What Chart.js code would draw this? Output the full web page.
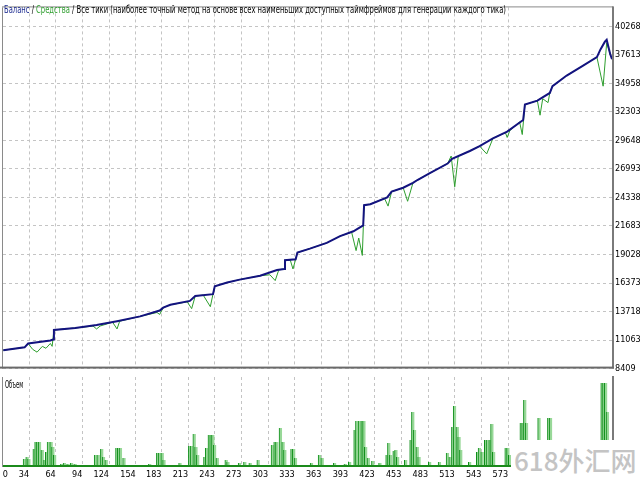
<!DOCTYPE html>
<html>
<head>
<meta charset="utf-8">
<script src="https://cdn.jsdelivr.net/npm/chart.js@4.4.0/dist/chart.umd.min.js"></script>
<style>
  html, body { margin: 0; padding: 0; background: #fff; }
  #wrap { position: relative; width: 640px; height: 480px; overflow: hidden; }
  #top { position: absolute; left: 0; top: 0; }
  #vol { position: absolute; left: 0; top: 376px; }
  .lbl { position: absolute; white-space: nowrap; transform-origin: 0 0; color: #000;
         font: 10px 'Liberation Sans Narrow', 'DejaVu Sans Condensed', 'DejaVu Sans', sans-serif; }
  #title { left: 4px; top: 4px; }
  #volLabel { left: 5px; top: 379px; }
  #mark { position: absolute; left: 511px; top: 440px; width: 129px; height: 40px; background: #fff;
          color: #c4c4c4; font: 500 26px 'Noto Sans CJK SC', sans-serif; line-height: 40px; padding-left: 3px; box-sizing: border-box; }
</style>
</head>
<body>
<div id="wrap">
  <canvas id="top" width="640" height="376"></canvas>
  <canvas id="vol" width="640" height="104"></canvas>
  <div id="title" class="lbl"><span style="color:#1b2a8f">Баланс</span> / <span style="color:#2e9e2e">Средства</span> / Все тики (наиболее точный метод на основе всех наименьших доступных таймфреймов для генерации каждого тика)</div>
  <div id="volLabel" class="lbl">Объем</div>
  <div id="mark">618外汇网</div>
</div>
<script>
// номер сделки / баланс
const balanceTrade = [5,29,33,58,61,62,86,110,133,159,181,185,193,215,221,241,243,257,271,294,313,321,322,334,336,350,369,384,399,410,411,418,437,442,455,466,471,485,505,510,530,541,556,572,590,592,606,620,623,639,657,673,677,682,684,688,690];
const balance = [10119,10389,10749,11019,11109,12009,12189,12459,12819,13269,13809,14079,14349,14709,15159,15339,16059,16419,16689,17049,17589,17679,18489,18579,19209,19569,20109,20739,21189,21729,23619,23709,24339,24879,25239,25689,25959,26589,27489,27939,28659,29109,29829,30459,31539,32979,33339,34059,34689,35679,36579,37389,38109,38829,39009,37659,37209];

// средства (equity), с просадками
const equityTrade = [5,29,33,38,43,49,53,58,60,62,86,106,110,114,128,133,136,159,178,181,185,193,212,217,221,230,238,241,243,257,271,294,305,311,315,321,322,328,331,334,336,350,369,384,397,402,405,409,411,418,434,438,442,455,460,466,471,485,505,509,513,517,530,541,549,556,570,572,575,586,589,592,606,609,612,618,620,623,639,657,673,680,684,688,690];
const equity = [10119,10389,10749,10209,9939,10479,10299,10749,10479,12009,12189,12369,12099,12369,12729,12099,12819,13269,13629,13449,14079,14349,14619,13989,15159,15249,14169,15339,16059,16419,16689,17049,17139,16599,17589,17679,18489,18489,17679,18579,19209,19569,20109,20739,21099,19389,20559,18939,23619,23709,24249,23529,24879,25239,23979,25689,25959,26589,27489,28190,25329,28190,28659,29109,28389,29829,30369,29919,30549,31359,30189,32979,33339,31989,33519,33159,34059,34689,35679,36579,37389,34689,38739,37659,37209];

// объем
const volTrade = [29,32,34,40,42,44,46,49,52,54,56,59,61,63,71,74,78,82,86,103,109,112,116,118,121,133,135,137,141,151,164,170,179,181,184,186,204,215,217,220,222,224,232,234,237,239,241,243,246,256,258,271,277,283,292,308,311,313,317,320,322,330,332,334,352,361,364,378,390,395,401,403,406,409,411,413,416,421,429,437,439,441,445,447,449,458,464,466,468,471,473,485,496,505,508,511,513,516,518,520,530,539,541,544,548,550,553,555,557,571,573,575,588,590,592,594,608,619,621,679,681,683,685];
const volume = [8,10,8,18,25,25,25,17,7,15,25,25,20,12,3,4,3,4,3,2,12,12,18,10,7,19,19,19,9,2,2,3,14,14,14,7,4,21,21,33,20,12,10,19,32,32,32,22,9,7,5,4,5,4,7,22,25,25,39,25,17,18,18,9,4,12,9,4,3,5,37,46,46,46,46,20,9,6,4,12,24,12,16,17,10,7,27,55,37,20,10,5,5,14,10,40,61,40,30,17,5,15,19,15,27,27,27,43,15,19,19,12,44,44,67,44,49,49,49,84,84,84,55];

// подписи осей
const xTicks = [0,34,64,94,124,154,183,213,243,273,303,333,363,393,423,453,483,513,543,573];
const yTicks = [8409,11063,13718,16373,19028,21683,24338,26993,29648,32303,34958,37613,40268];

const xMin = 4.7, xMax = 691.1;
const zeroTickAt = 10.3;
const tickFont = { family: "'Liberation Sans Narrow', 'DejaVu Sans Condensed', 'DejaVu Sans', sans-serif", size: 9 };
const gridColor = '#c4c4c4';

const frame = {
  id: 'frame',
  afterDraw(chart, args, opts) {
    const { ctx, chartArea: a } = chart;
    ctx.save();
    ctx.fillStyle = '#8a8a8a';
    if (opts.top) ctx.fillRect(a.left - 1, a.top - 1, a.right - a.left + 1, 1);
    ctx.fillRect(a.left - 1, a.top, 1, a.bottom - a.top);
    ctx.fillStyle = '#7a7a7a';
    ctx.fillRect(a.right - 1, a.top - 1, 2, a.bottom - a.top + 1);
    ctx.fillStyle = opts.bottomColor;
    ctx.fillRect(opts.top ? 0 : a.left, a.bottom - 2, a.right - (opts.top ? 0 : a.left) + 1, 2);
    ctx.restore();
  }
};

const xScale = (withLabels) => ({
  type: 'linear',
  min: xMin,
  max: xMax,
  offset: false,
  afterBuildTicks: s => {
    s.ticks = xTicks.filter(v => withLabels || v !== 0).map(v => ({ value: v === 0 ? zeroTickAt : v }));
  },
  afterFit: s => { s.height = withLabels ? 13 : 0; },
  ticks: {
    display: withLabels, autoSkip: false, maxRotation: 0, align: 'end', padding: 2,
    font: tickFont, color: '#000',
    callback: (v, i) => String(withLabels ? xTicks[i] : v)
  },
  grid: {
    offset: false,
    drawTicks: false,
    color: ctx => (ctx.tick && ctx.tick.value === zeroTickAt) ? 'rgba(0,0,0,0)' : gridColor
  },
  border: { display: false, dash: [3, 3] }
});

new Chart(document.getElementById('top'), {
  type: 'line',
  data: {
    datasets: [
      {
        label: 'Средства',
        data: equityTrade.map((x, i) => ({ x: x, y: equity[i] })),
        borderColor: '#2e9e2e',
        borderWidth: 1,
        pointRadius: 0,
        tension: 0,
        order: 2
      },
      {
        label: 'Баланс',
        data: balanceTrade.map((x, i) => ({ x: x, y: balance[i] })),
        borderColor: '#13137f',
        borderWidth: 2,
        pointRadius: 0,
        tension: 0,
        order: 1
      }
    ]
  },
  options: {
    responsive: false,
    animation: false,
    layout: { padding: { left: 3, top: 1, right: 0, bottom: 1 } },
    plugins: {
      legend: { display: false },
      tooltip: { enabled: false },
      frame: { top: true, bottomColor: '#6a6a6a' }
    },
    scales: {
      x: xScale(false),
      y: {
        position: 'right',
        min: 8409,
        max: 42020,
        afterBuildTicks: s => { s.ticks = yTicks.map(v => ({ value: v })); },
        afterFit: s => { s.width = 27; },
        ticks: { font: tickFont, color: '#000', padding: 2, callback: v => String(v) },
        grid: { drawTicks: false, color: gridColor },
        border: { display: false, dash: [3, 3] }
      }
    }
  },
  plugins: [frame]
});

new Chart(document.getElementById('vol'), {
  type: 'bar',
  data: {
    datasets: [{
      label: 'Объем',
      data: volTrade.map((x, i) => ({ x: x, y: volume[i] })),
      backgroundColor: '#98d898',
      borderColor: '#0f8f1a',
      borderWidth: { left: 1, right: 0, top: 0, bottom: 0 },
      barThickness: 3
    }]
  },
  options: {
    responsive: false,
    animation: false,
    layout: { padding: { left: 3, top: 1, right: 0, bottom: 0 } },
    plugins: {
      legend: { display: false },
      tooltip: { enabled: false },
      frame: { top: false, bottomColor: '#1b8a1b' }
    },
    scales: {
      x: xScale(true),
      y: {
        position: 'right',
        min: 0,
        max: 90,
        afterFit: s => { s.width = 27; },
        ticks: { display: false },
        grid: { display: false },
        border: { display: false }
      }
    }
  },
  plugins: [frame]
});

// подгонка ширины подписей
const fit = (id, w) => {
  const el = document.getElementById(id);
  el.style.transform = 'scaleX(' + (w / el.scrollWidth) + ')';
};
fit('title', 502);
fit('volLabel', 18);
</script>
</body>
</html>
